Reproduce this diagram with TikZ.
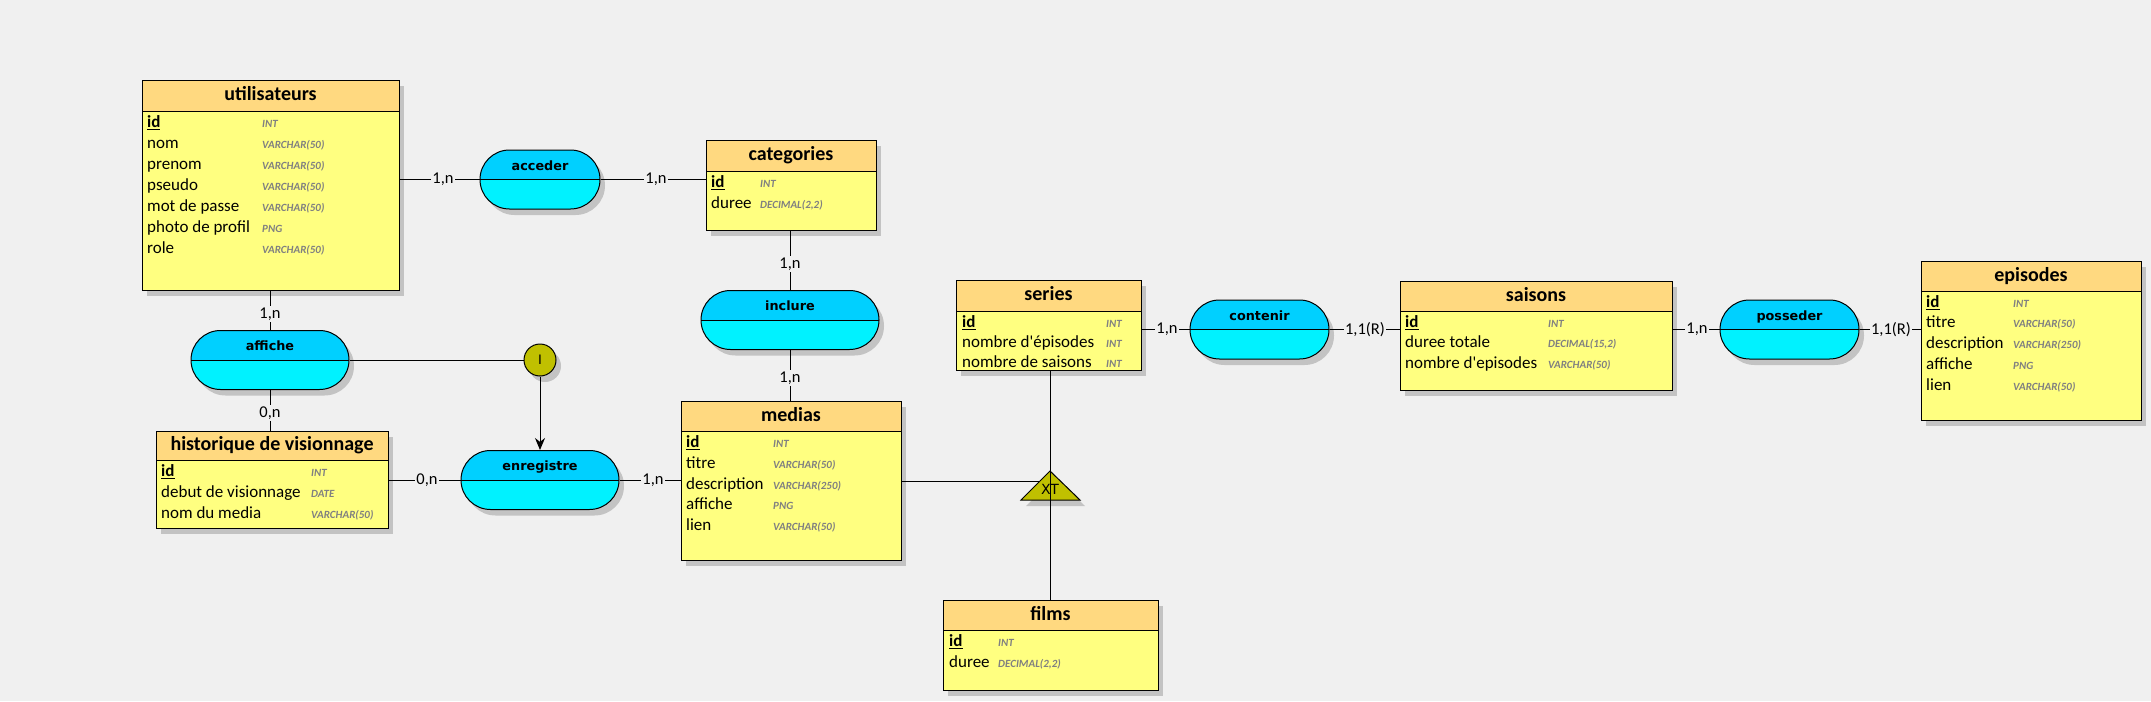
\documentclass[tikz,border=0pt]{standalone}
\usepackage{fontspec}
\setmainfont{Carlito}[Ligatures=TeXOff]
\newfontfamily\djv{DejaVu Sans}
\usetikzlibrary{arrows.meta,calc}
\definecolor{bgc}{RGB}{240,240,240}
\definecolor{hdc}{RGB}{255,217,128}
\definecolor{bdc}{RGB}{255,255,128}
\definecolor{shc}{RGB}{195,195,195}
\definecolor{ptop}{RGB}{0,208,255}
\definecolor{pbot}{RGB}{0,242,255}
\definecolor{olv}{RGB}{192,192,0}
\definecolor{tyc}{RGB}{128,128,128}
\tikzset{
 entbox/.style={draw=black, line width=1pt, fill=bdc, inner sep=0pt, anchor=north west},
 hdrbox/.style={draw=black, line width=1pt, fill=hdc, inner sep=0pt, text height=14pt, text depth=4pt, font=\fontsize{20}{24}\selectfont\bfseries},
 attr/.style={anchor=base west, inner sep=0pt, font=\fontsize{17}{20}\selectfont},
 typ/.style={anchor=base west, inner sep=0pt, text=tyc, font=\fontsize{11}{13}\selectfont\bfseries\itshape},
 card/.style={fill=bgc, inner sep=1.5pt, font=\fontsize{16.5}{20}\selectfont},
 lnk/.style={line width=1pt, draw=black},
 pillbox/.style={draw=black, line width=1pt, rounded corners=29.5pt, inner sep=0pt, fill=pbot, minimum height=59pt,
   path picture={\fill[ptop, sharp corners] ([xshift=-2pt,yshift=2pt]path picture bounding box.north west) rectangle (path picture bounding box.east);
   \draw[line width=1pt, sharp corners] ([xshift=-2pt]path picture bounding box.west) -- ([xshift=2pt]path picture bounding box.east);}},
 pillshadow/.style={fill=shc, rounded corners=29.5pt, inner sep=0pt, minimum height=59pt},
 pilltxt/.style={inner sep=0pt, text height=10pt, text depth=3pt, font=\djv\fontsize{12.8}{15}\selectfont\bfseries},
}
\newcommand{\entity}[7]{%
 \fill[shc] (#2+5,#3+6) rectangle (#4+5,#5+6);
 \node[entbox, minimum width={(#4-#2)*1pt}, minimum height={(#5-#3)*1pt}] (#1) at (#2,#3) {};
 \node[hdrbox, minimum width={(#4-#2)*1pt}, minimum height={(#6-#3)*1pt}] (#1-h) at ({(#2+#4)/2},{(#3+#6)/2}) {#7};
}
\newcommand{\arow}[7]{\node[attr] (#1-n#2) at (#3,#5) {#6}; \node[typ] (#1-y#2) at (#4,#5) {#7};}
\newcommand{\pill}[5]{%
 \node[pillshadow, minimum width=#4pt] (#1-s) at (#2+5,#3+6) {};
 \node[pillbox, minimum width=#4pt] (#1) at (#2,#3) {};
 \node[pilltxt] (#1-t) at (#2,#3-13) {#5};
}
\newcommand{\pk}{\setbox0\hbox{\bfseries id}\rlap{\rule[-3pt]{\wd0}{1.4pt}}\box0}
\begin{document}
\begin{tikzpicture}[x=1pt,y=-1pt]
\useasboundingbox (0,0) rectangle (2151,701);
\fill[bgc] (0,0) rectangle (2151,701);
% entities
\entity{ut}{142}{80}{399}{290}{111}{utilisateurs}
\arow{ut}{1}{147}{262}{127}{\pk}{INT}
\arow{ut}{2}{147}{262}{148}{nom}{VARCHAR(50)}
\arow{ut}{3}{147}{262}{169}{prenom}{VARCHAR(50)}
\arow{ut}{4}{147}{262}{190}{pseudo}{VARCHAR(50)}
\arow{ut}{5}{147}{262}{211}{mot de passe}{VARCHAR(50)}
\arow{ut}{6}{147}{262}{232}{photo de profil}{PNG}
\arow{ut}{7}{147}{262}{253}{role}{VARCHAR(50)}
\entity{cat}{706}{140}{876}{230}{171}{categories}
\arow{cat}{1}{711}{760}{187}{\pk}{INT}
\arow{cat}{2}{711}{760}{208}{duree}{DECIMAL(2,2)}
\entity{med}{681}{401}{901}{560}{431}{medias}
\arow{med}{1}{686}{773}{447}{\pk}{INT}
\arow{med}{2}{686}{773}{468}{titre}{VARCHAR(50)}
\arow{med}{3}{686}{773}{489}{description}{VARCHAR(250)}
\arow{med}{4}{686}{773}{509}{affiche}{PNG}
\arow{med}{5}{686}{773}{530}{lien}{VARCHAR(50)}
\entity{his}{156}{431}{388}{528}{460}{historique de visionnage}
\arow{his}{1}{161}{311}{476}{\pk}{INT}
\arow{his}{2}{161}{311}{497}{debut de visionnage}{DATE}
\arow{his}{3}{161}{311}{518}{nom du media}{VARCHAR(50)}
\entity{ser}{956}{280}{1141}{370}{311}{series}
\arow{ser}{1}{962}{1106}{327}{\pk}{INT}
\arow{ser}{2}{962}{1106}{347}{nombre d'épisodes}{INT}
\arow{ser}{3}{962}{1106}{367}{nombre de saisons}{INT}
\entity{sai}{1400}{281}{1672}{390}{311}{saisons}
\arow{sai}{1}{1405}{1548}{327}{\pk}{INT}
\arow{sai}{2}{1405}{1548}{347}{duree totale}{DECIMAL(15,2)}
\arow{sai}{3}{1405}{1548}{368}{nombre d'episodes}{VARCHAR(50)}
\entity{epi}{1921}{261}{2141}{420}{291}{episodes}
\arow{epi}{1}{1926}{2013}{307}{\pk}{INT}
\arow{epi}{2}{1926}{2013}{327}{titre}{VARCHAR(50)}
\arow{epi}{3}{1926}{2013}{348}{description}{VARCHAR(250)}
\arow{epi}{4}{1926}{2013}{369}{affiche}{PNG}
\arow{epi}{5}{1926}{2013}{390}{lien}{VARCHAR(50)}
\entity{fil}{943}{600}{1158}{690}{630}{films}
\arow{fil}{1}{949}{998}{646}{\pk}{INT}
\arow{fil}{2}{949}{998}{667}{duree}{DECIMAL(2,2)}
% associations
\pill{acc}{540}{179.5}{120}{acceder}
\pill{inc}{790}{320}{178}{inclure}
\pill{aff}{270}{360}{158}{affiche}
\pill{enr}{540}{480}{158}{enregistre}
\pill{con}{1259.5}{329.5}{139}{contenir}
\pill{pos}{1789.5}{329.5}{139}{posseder}
% CIF circle
\fill[shc] (545,366) circle (16);
\node[circle, draw=black, line width=1pt, fill=olv, minimum size=32pt, inner sep=0pt, font=\djv\fontsize{13}{15}\selectfont] (ci) at (540,360) {I};
% links
\draw[lnk] (acc.west -| ut.east) -- (acc.west);
\draw[lnk] (acc.east) -- (acc.east -| cat.west);
\draw[lnk] (inc.north |- cat.south) -- (inc.north);
\draw[lnk] (inc.south) -- (inc.south |- med.north);
\draw[lnk] (aff.north |- ut.south) -- (aff.north);
\draw[lnk] (aff.south) -- (aff.south |- his.north);
\draw[lnk] (enr.west -| his.east) -- (enr.west);
\draw[lnk] (enr.east) -- (enr.east -| med.west);
\draw[lnk] (aff.east) -- (ci.west);
\draw[lnk,-{Stealth[length=12pt,width=10pt]}] (ci.south) -- (enr.north);
\draw[lnk] (con.west -| ser.east) -- (con.west);
\draw[lnk] (con.east) -- (con.east -| sai.west);
\draw[lnk] (pos.west -| sai.east) -- (pos.west);
\draw[lnk] (pos.east) -- (pos.east -| epi.west);
% XT
\coordinate (xt) at (1050,486);
\draw[lnk] (med.east) -- (med.east -| xt);
\fill[shc] (1055,477) -- (1026,506) -- (1085,506) -- cycle;
\draw[lnk, fill=olv] (1050,471) -- (1021,500) -- (1080,500) -- cycle;
\draw[lnk] (ser.south -| xt) -- (fil.north -| xt);
\node[inner sep=0pt, font=\djv\fontsize{14}{16}\selectfont] (xt-t) at (1050,489) {XT};
% cardinalities
\node[card] (k1) at (443,179.5) {1,n};
\node[card] (k2) at (656,179.5) {1,n};
\node[card] (k3) at (790,264) {1,n};
\node[card] (k4) at (790,378) {1,n};
\node[card] (k5) at (270,314) {1,n};
\node[card] (k6) at (270,413) {0,n};
\node[card] (k7) at (427,480) {0,n};
\node[card] (k8) at (653,480) {1,n};
\node[card] (k9) at (1167,329.5) {1,n};
\node[card] (k10) at (1365,329.5) {1,1(R)};
\node[card] (k11) at (1697,329.5) {1,n};
\node[card] (k12) at (1891,329.5) {1,1(R)};
\end{tikzpicture}
\end{document}
